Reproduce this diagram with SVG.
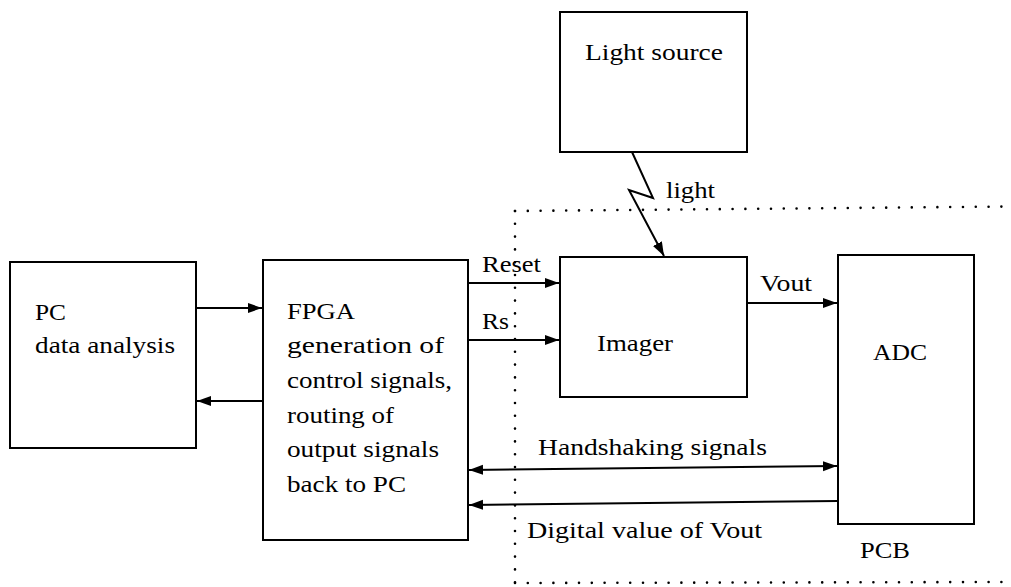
<svg xmlns="http://www.w3.org/2000/svg" width="1011" height="587" viewBox="0 0 1011 587">
<style>
.box{fill:#fff;stroke:#000;stroke-width:2}
.t{font-family:"Liberation Serif","Times New Roman",serif;font-size:24px;fill:#000}
.c{fill:none;stroke:#000;stroke-width:2}
.dot{fill:none;stroke:#000;stroke-width:2.6;stroke-linecap:round;stroke-dasharray:0 12.8}
</style>
<defs>
<marker id="ah" markerUnits="userSpaceOnUse" markerWidth="16" markerHeight="12" refX="14" refY="5" orient="auto-start-reverse">
<path d="M0,0 L14,5 L0,10 z" fill="#000"/>
</marker>
</defs>
<rect width="1011" height="587" fill="#fff"/>
<g id="pcb-boundary">
<path class="dot" d="M515,211 L1011,206.5"/>
<path class="dot" d="M515,211 L515,583"/>
<path class="dot" d="M515,583 L1011,582"/>
<text class="t" x="860" y="558" textLength="50" lengthAdjust="spacingAndGlyphs">PCB</text>
</g>
<g id="light-source">
<rect class="box" x="560" y="12" width="187" height="140"/>
<text class="t" x="585" y="60" textLength="138" lengthAdjust="spacingAndGlyphs">Light source</text>
</g>
<g id="pc">
<rect class="box" x="10" y="262" width="186" height="186"/>
<text class="t" x="35" y="320" textLength="31" lengthAdjust="spacingAndGlyphs">PC</text>
<text class="t" x="35" y="353" textLength="140" lengthAdjust="spacingAndGlyphs">data analysis</text>
</g>
<g id="fpga">
<rect class="box" x="263" y="260" width="205" height="280"/>
<text class="t" x="287" y="319" textLength="68" lengthAdjust="spacingAndGlyphs">FPGA</text>
<text class="t" x="287" y="353" textLength="157" lengthAdjust="spacingAndGlyphs">generation of</text>
<text class="t" x="287" y="388" textLength="165" lengthAdjust="spacingAndGlyphs">control signals,</text>
<text class="t" x="287" y="423" textLength="107" lengthAdjust="spacingAndGlyphs">routing of</text>
<text class="t" x="287" y="457" textLength="152" lengthAdjust="spacingAndGlyphs">output signals</text>
<text class="t" x="287" y="492" textLength="119" lengthAdjust="spacingAndGlyphs">back to PC</text>
</g>
<g id="imager">
<rect class="box" x="560" y="257" width="187" height="140"/>
<text class="t" x="597" y="351" textLength="76" lengthAdjust="spacingAndGlyphs">Imager</text>
</g>
<g id="adc">
<rect class="box" x="838" y="255" width="136" height="269"/>
<text class="t" x="873" y="360" textLength="54" lengthAdjust="spacingAndGlyphs">ADC</text>
</g>
<g id="connectors">
<path class="c" d="M632,152 L653,198 L629,190 L664,256" marker-end="url(#ah)"/>
<text class="t" x="666" y="198" textLength="49" lengthAdjust="spacingAndGlyphs">light</text>
<path class="c" d="M196,308 L262,308" marker-end="url(#ah)"/>
<path class="c" d="M263,401 L197,401" marker-end="url(#ah)"/>
<path class="c" d="M468,283 L559,283" marker-end="url(#ah)"/>
<text class="t" x="482" y="272" textLength="59" lengthAdjust="spacingAndGlyphs">Reset</text>
<path class="c" d="M468,340 L559,340" marker-end="url(#ah)"/>
<text class="t" x="482" y="329" textLength="27" lengthAdjust="spacingAndGlyphs">Rs</text>
<path class="c" d="M747,303 L837,303" marker-end="url(#ah)"/>
<text class="t" x="760" y="291" textLength="52" lengthAdjust="spacingAndGlyphs">Vout</text>
<path class="c" d="M469,470 L837,466" marker-start="url(#ah)" marker-end="url(#ah)"/>
<text class="t" x="538" y="455" textLength="229" lengthAdjust="spacingAndGlyphs">Handshaking signals</text>
<path class="c" d="M838,501 L469,505" marker-end="url(#ah)"/>
<text class="t" x="527" y="538" textLength="235" lengthAdjust="spacingAndGlyphs">Digital value of Vout</text>
</g>
</svg>
